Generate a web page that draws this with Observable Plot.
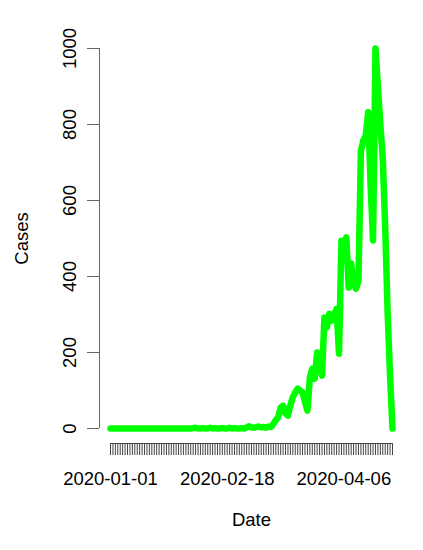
<!DOCTYPE html>
<html><head><meta charset="utf-8">
<script src="https://cdn.jsdelivr.net/npm/d3@7"></script>
<script src="https://cdn.jsdelivr.net/npm/@observablehq/plot@0.6"></script>
<style>body{margin:0;background:#fff}</style>
</head><body><div id="chart"></div>
<script>
const startDate = "2020-01-01";
const cases = [
  0,0,0,0,0,0,0,0,0,0,
  0,0,0,0,0,0,0,0,0,0,
  0,0,0,0,0,0,0,0,0,0,
  0,0,0,0,1,2,0,0,1,0,
  0,2,0,1,0,0,1,0,0,2,
  0,1,0,0,1,0,
  3,6,3,2,4,5,3,4,2,5,4,
  12,22,30,55,60,40,34,62,82,95,105,100,95,70,
  47,134,157,131,200,170,139,292,266,302,
  284,300,315,197,494,476,503,371,434,380,
  368,389,731,758,771,832,640,495,1000,900,
  800,710,530,305,137,0
];
const yTicks = [0, 200, 400, 600, 800, 1000];
const xLabelDates = ["2020-01-01", "2020-02-18", "2020-04-06"];
const xTitle = "Date";
const yTitle = "Cases";

const dates = cases.map((_, i) => d3.utcDay.offset(new Date(startDate), i));
const data = cases.map((c, i) => ({date: dates[i], cases: c}));
const fs = 18.5;

const chart = Plot.plot({
  width: 423, height: 550,
  marginLeft: 110, marginRight: 31, marginTop: 48, marginBottom: 122,
  x: {type: "utc", domain: [dates[0], dates[dates.length - 1]], label: null},
  y: {domain: [0, 1000], label: null},
  style: {fontFamily: "'Liberation Sans', Arial, sans-serif", fontSize: fs + "px", color: "#000", background: "#fff"},
  marks: [
    Plot.ruleX([dates[0]], {y1: 0, y2: 1000, dx: -11, stroke: "#666"}),
    Plot.axisY({ticks: yTicks, tickSize: 12, tickPadding: 12, tickRotate: -90, tickFormat: d => String(d), dx: -11, label: null, stroke: "#666", fontSize: fs}),
    Plot.ruleY([0], {x1: dates[0], x2: dates[dates.length - 1], dy: 15, stroke: "#444"}),
    Plot.axisX({ticks: dates, tickSize: 12, tickFormat: () => "", dy: 15, label: null, stroke: "#444"}),
    Plot.axisX({ticks: xLabelDates.map(d => new Date(d)), tickSize: 0, tickPadding: 43, tickFormat: d3.utcFormat("%Y-%m-%d"), label: null, fontSize: fs}),
    Plot.line(data, {x: "date", y: "cases", stroke: "#00FF00", strokeWidth: 6.5, strokeLinejoin: "round", strokeLinecap: "round"}),
    Plot.text([yTitle], {frameAnchor: "left", dx: -88, rotate: -90, textAnchor: "middle", lineAnchor: "middle", fontSize: fs}),
    Plot.text([xTitle], {frameAnchor: "bottom", dy: 92, textAnchor: "middle", lineAnchor: "middle", fontSize: fs})
  ]
});
document.getElementById("chart").appendChild(chart);
</script>
</body></html>
